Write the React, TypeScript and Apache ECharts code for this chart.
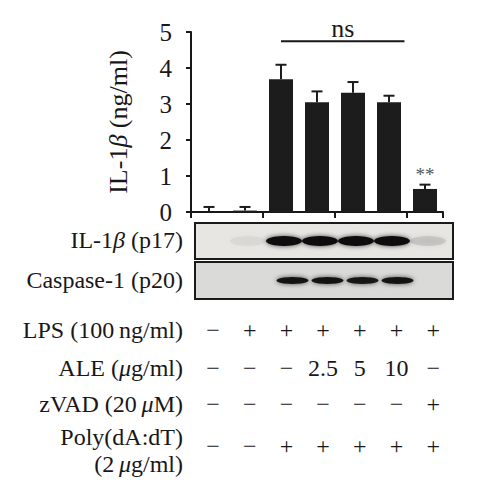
import { useEffect, useRef } from "react";
import * as echarts from "echarts";

// bar chart: IL-1β secretion per treatment lane
const lanes = ["Ctrl", "LPS", "LPS+Poly", "ALE 2.5", "ALE 5", "ALE 10", "zVAD"];
const means = [0, 0.04, 3.69, 3.05, 3.31, 3.05, 0.64];
const errors = [0.14, 0.1, 0.4, 0.3, 0.3, 0.18, 0.12];
const sigMarks = ["", "", "", "", "", "", "**"];

// western blot band intensities (0..1)
const p17Bands = [0, 0.04, 1, 1, 1, 1, 0.1];
const p20Bands = [0, 0, 0.95, 0.95, 0.92, 0.95, 0];

// treatment table
const rowLabels = ["LPS (100\u2009ng/ml)", "ALE ({it|\u03bc}g/ml)", "zVAD (20\u2009{it|\u03bc}M)", "Poly(dA:dT)\n(2\u2009{it|\u03bc}g/ml)"];
const lpsRow = ["\u2212", "+", "+", "+", "+", "+", "+"];
const aleRow = ["\u2212", "\u2212", "\u2212", "2.5", "5", "10", "\u2212"];
const zvadRow = ["\u2212", "\u2212", "\u2212", "\u2212", "\u2212", "\u2212", "+"];
const polyRow = ["\u2212", "\u2212", "+", "+", "+", "+", "+"];

const FONT = "Liberation Serif";
const INK = "#1a1718";
const FS = 24;

export default function App() {
  const ref = useRef<HTMLDivElement>(null);

  useEffect(() => {
    if (!ref.current) return;
    const chart = echarts.init(ref.current, null, { renderer: "svg" });

    const bandSeries = (bands: number[], idx: number, w: number, h: number) => ({
      type: "scatter",
      xAxisIndex: idx,
      yAxisIndex: idx,
      symbol: "circle",
      symbolSize: [w, h],
      silent: true,
      data: bands.map((v, i) => ({
        value: [i, 0.5],
        itemStyle: { color: "#0d0d0d", opacity: v, shadowBlur: 5, shadowColor: "rgba(0,0,0,0.7)" },
      })),
    });

    const hiddenX = (gi: number) => ({
      type: "category",
      gridIndex: gi,
      data: lanes,
      show: false,
    });
    const hiddenY = (gi: number) => ({
      type: "value",
      gridIndex: gi,
      min: 0,
      max: 1,
      show: false,
    });

    chart.setOption({
      animation: false,
      backgroundColor: "#fff",
      grid: [
        { left: 191, right: 34, top: 32, height: 180 },
        { left: 194, right: 31, top: 223, height: 36 },
        { left: 205, right: 27, top: 262, height: 37 },
      ],
      xAxis: [
        {
          type: "category",
          gridIndex: 0,
          data: lanes,
          axisLine: { lineStyle: { color: INK, width: 2 } },
          axisTick: { show: true, length: 6, lineStyle: { color: INK, width: 2 } },
          axisLabel: { show: false },
        },
        hiddenX(1),
        hiddenX(2),
      ],
      yAxis: [
        {
          type: "value",
          gridIndex: 0,
          min: 0,
          max: 5,
          interval: 1,
          name: "IL-1{it|\u03b2} (ng/ml)",
          nameLocation: "middle",
          nameGap: 60,
          nameTextStyle: {
            fontFamily: FONT,
            fontSize: 26,
            color: INK,
            rich: { it: { fontStyle: "italic", fontFamily: FONT, fontSize: 26, color: INK } },
          },
          axisLine: { show: true, lineStyle: { color: INK, width: 2 } },
          axisTick: { show: true, length: 5, lineStyle: { color: INK, width: 2 } },
          axisLabel: { fontFamily: FONT, fontSize: 25, color: INK, margin: 19 },
          splitLine: { show: false },
        },
        hiddenY(1),
        hiddenY(2),
      ],
      series: [
        {
          type: "bar",
          data: means,
          barWidth: 24,
          itemStyle: { color: "#1c1c1c" },
          silent: true,
        },
        {
          type: "custom",
          z: 3,
          silent: true,
          data: means.map((m, i) => [i, m, errors[i]]),
          renderItem: (params: any, api: any) => {
            const i = api.value(0);
            const m = api.value(1);
            const e = api.value(2);
            const base = api.coord([i, m]);
            const top = api.coord([i, m + e]);
            const cap = 5.5;
            const style = { stroke: "#1c1c1c", lineWidth: 2 };
            const children: any[] = [
              { type: "line", shape: { x1: top[0], y1: base[1], x2: top[0], y2: top[1] }, style },
              { type: "line", shape: { x1: top[0] - cap, y1: top[1], x2: top[0] + cap, y2: top[1] }, style },
            ];
            if (sigMarks[params.dataIndex]) {
              children.push({
                type: "text",
                style: {
                  text: sigMarks[params.dataIndex],
                  x: top[0],
                  y: top[1] - 1,
                  align: "center",
                  verticalAlign: "bottom",
                  fontFamily: FONT,
                  fontSize: 19,
                  fill: "#555",
                },
              });
            }
            return { type: "group", children };
          },
        },
        bandSeries(p17Bands, 1, 36, 10),
        bandSeries(p20Bands, 2, 32, 7),
      ],
    });

    // annotation and table positions depend on the axes
    const cx = (i: number) => chart.convertToPixel({ gridIndex: 0 }, [i, 0])[0];
    const py = (v: number) => chart.convertToPixel({ gridIndex: 0 }, [0, v])[1];
    const band = cx(1) - cx(0);
    const nsY = py(4.74);

    const textStyle = (text: string, x: number, y: number, align: string, size = FS) => ({
      type: "text",
      silent: true,
      style: {
        text,
        x,
        y,
        align,
        verticalAlign: "middle",
        fontFamily: FONT,
        fontSize: size,
        fill: INK,
        lineHeight: 27,
        rich: { it: { fontStyle: "italic", fontFamily: FONT, fontSize: size, fill: INK } },
      },
    });

    const rowYs = [330, 368, 404, 446];
    const rows = [lpsRow, aleRow, zvadRow, polyRow];
    const colX = (i: number) => 213 + i * 36.7;
    const tableEls: any[] = [];
    rowLabels.forEach((lab, r) => {
      tableEls.push(textStyle(lab, 183, r === 3 ? 450 : rowYs[r], "right"));
      rows[r].forEach((s, c) => tableEls.push(textStyle(s, colX(c), rowYs[r], "center")));
    });

    chart.setOption({
      graphic: [
        // ns bracket
        {
          type: "line",
          silent: true,
          shape: { x1: cx(2), y1: nsY, x2: cx(5) + band * 0.43, y2: nsY },
          style: { stroke: INK, lineWidth: 2 },
        },
        textStyle("ns", (cx(2) + cx(5) + band * 0.43) / 2, nsY - 13, "center", 26),
        // blot panels
        {
          type: "rect",
          silent: true,
          z: -1,
          shape: { x: 195, y: 223, width: 258, height: 36 },
          style: { fill: "#e7e6e3", stroke: "#1a1a1a", lineWidth: 2 },
        },
        {
          type: "rect",
          silent: true,
          z: -1,
          shape: { x: 195, y: 262, width: 258, height: 37 },
          style: { fill: "#dadad8", stroke: "#1a1a1a", lineWidth: 2 },
        },
        textStyle("IL-1{it|\u03b2} (p17)", 183, 240, "right"),
        textStyle("Caspase-1 (p20)", 183, 280, "right"),
        ...tableEls,
      ],
    });

    return () => chart.dispose();
  }, []);

  return <div ref={ref} style={{ position: "absolute", left: 0, top: 0, width: 477, height: 500 }} />;
}
